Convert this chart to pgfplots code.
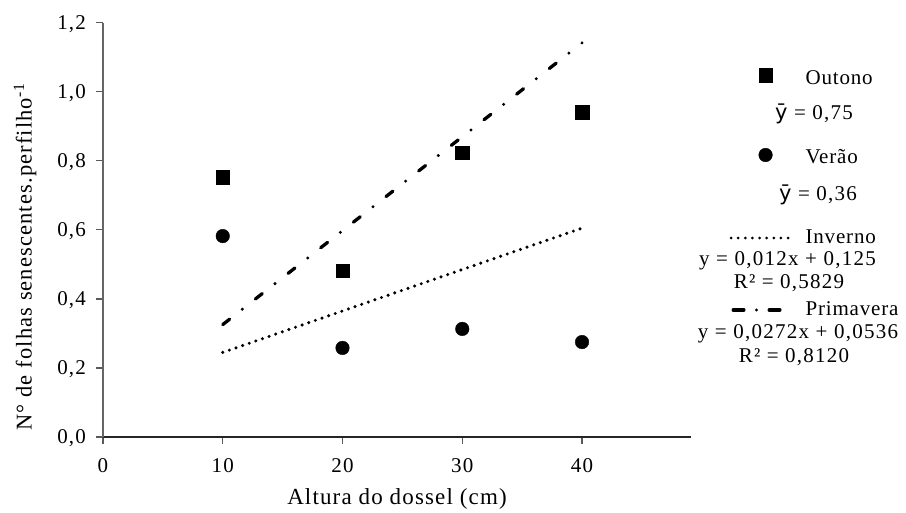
\documentclass[border=0pt]{standalone}
\usepackage{fontspec}
\setmainfont[LetterSpace=5]{Liberation Serif}
\newfontfamily\legfont[LetterSpace=4]{Liberation Serif}
\newfontfamily\eqfont[LetterSpace=6]{Liberation Serif}
\newfontfamily\ybarfont{DejaVu Sans}
\usepackage{pgfplots}
\pgfplotsset{compat=1.18}

% y with a bar, for the seasonal means
\newcommand\ybar{{\ybarfont ȳ}}
% an extra legend line: centred #1 right of the entry's left edge, #2 above its baseline
\newcommand\legline[3]{\makebox[0pt][l]{\hspace*{#1}\raisebox{#2}[0pt][0pt]{\makebox[0pt][c]{\eqfont #3}}}}

\begin{document}
\begin{tikzpicture}
\useasboundingbox (-103pt,-76pt) rectangle (803pt,437pt);
\begin{axis}[
  scale only axis,
  width=588pt, height=414.3pt,
  xmin=0, xmax=49.1, ymin=0, ymax=1.2,
  axis lines=left,
  axis line style={-, line width=1.3pt},
  x axis line style={draw=black!85},
  y axis line style={draw=black!60},
  tick align=outside,
  major tick length=7pt,
  tick style={draw=black!65, line width=1.3pt},
  xtick={0,10,20,30,40},
  ytick={0,0.2,0.4,0.6,0.8,1.0,1.2},
  /pgf/number format/assume math mode=true,
  /pgf/number format/use comma,
  yticklabel style={/pgf/number format/fixed, /pgf/number format/fixed zerofill,
    /pgf/number format/precision=1, anchor=base east, inner sep=0pt, xshift=-10pt, yshift=-7pt},
  xticklabel style={anchor=base, inner sep=0pt, yshift=-29pt},
  ticklabel style={font=\fontsize{21}{25}\selectfont},
  xlabel={Altura do dossel (cm)},
  ylabel={N° de folhas senescentes.perfilho\textsuperscript{-1}},
  xlabel style={at={(axis description cs:0.5,-0.1641)}, anchor=base, inner sep=0pt, font=\fontsize{23}{27}\selectfont},
  ylabel style={at={(axis description cs:-0.1327,0.4345)}, anchor=center, font=\fontsize{22.5}{27}\selectfont},
  clip=false,
  legend cell align=left,
  legend style={draw=none, fill=none, inner sep=0pt, outer sep=0pt,
    at={(axis description cs:1.0655,0.9003)}, anchor=north west,
    row sep={77pt,between origins}, column sep={44pt,between origins},
    nodes={inner sep=0pt, outer sep=0pt, text height=20pt, text depth=6pt},
    font=\fontsize{21}{25}\selectfont\legfont},
]
% Outono
\addplot[only marks, mark=square*, mark size=6.8pt, black,
  legend image post style={xshift=-4.5pt, yshift=2pt}]
  coordinates {(10,0.753) (20,0.482) (30,0.823) (40,0.941)};
\addlegendentry{\legline{8.5pt}{-35pt}{\ybar{} = 0,75}Outono}
% Verão
\addplot[only marks, mark=*, mark size=6.8pt, black,
  legend image post style={xshift=-4.5pt, yshift=-1pt}]
  coordinates {(10,0.582) (20,0.258) (30,0.313) (40,0.275)};
\addlegendentry{\raisebox{-2pt}{\legline{12.5pt}{-37pt}{\ybar{} = 0,36}Verão}}
% Inverno: y = 0,012x + 0,125
\addplot[black, line width=3.4pt, line cap=round, dash pattern=on 0pt off 7pt,
  legend image code/.code={\draw[black, line width=3pt, line cap=round, dash pattern=on 0pt off 7.125pt] (-30.5pt,-7pt) -- (26.5pt,-7pt);}]
  coordinates {(10,0.245) (40,0.605)};
\addlegendentry{\raisebox{-5pt}{\legline{-18pt}{-22pt}{y = 0,012x + 0,125}\legline{-16.5pt}{-45pt}{R² = 0,5829}Inverno}}
% Primavera: y = 0,0272x + 0,0536
\addplot[black, line width=3.3pt, line cap=round, dash pattern=on 8.7pt off 16.2pt on 0pt off 16.6pt,
  legend image code/.code={\draw[black, line width=3.3pt, line cap=round, dash pattern=on 10.7pt off 12.65pt on 0pt off 12.65pt] (-28.35pt,-2pt) -- (18.35pt,-2pt);}]
  coordinates {(10,0.3256) (40,1.1416)};
\addlegendentry{\legline{-7.5pt}{-23pt}{y = 0,0272x + 0,0536}\legline{-11.5pt}{-47pt}{R² = 0,8120}Primavera}
\end{axis}
\end{tikzpicture}
\end{document}
